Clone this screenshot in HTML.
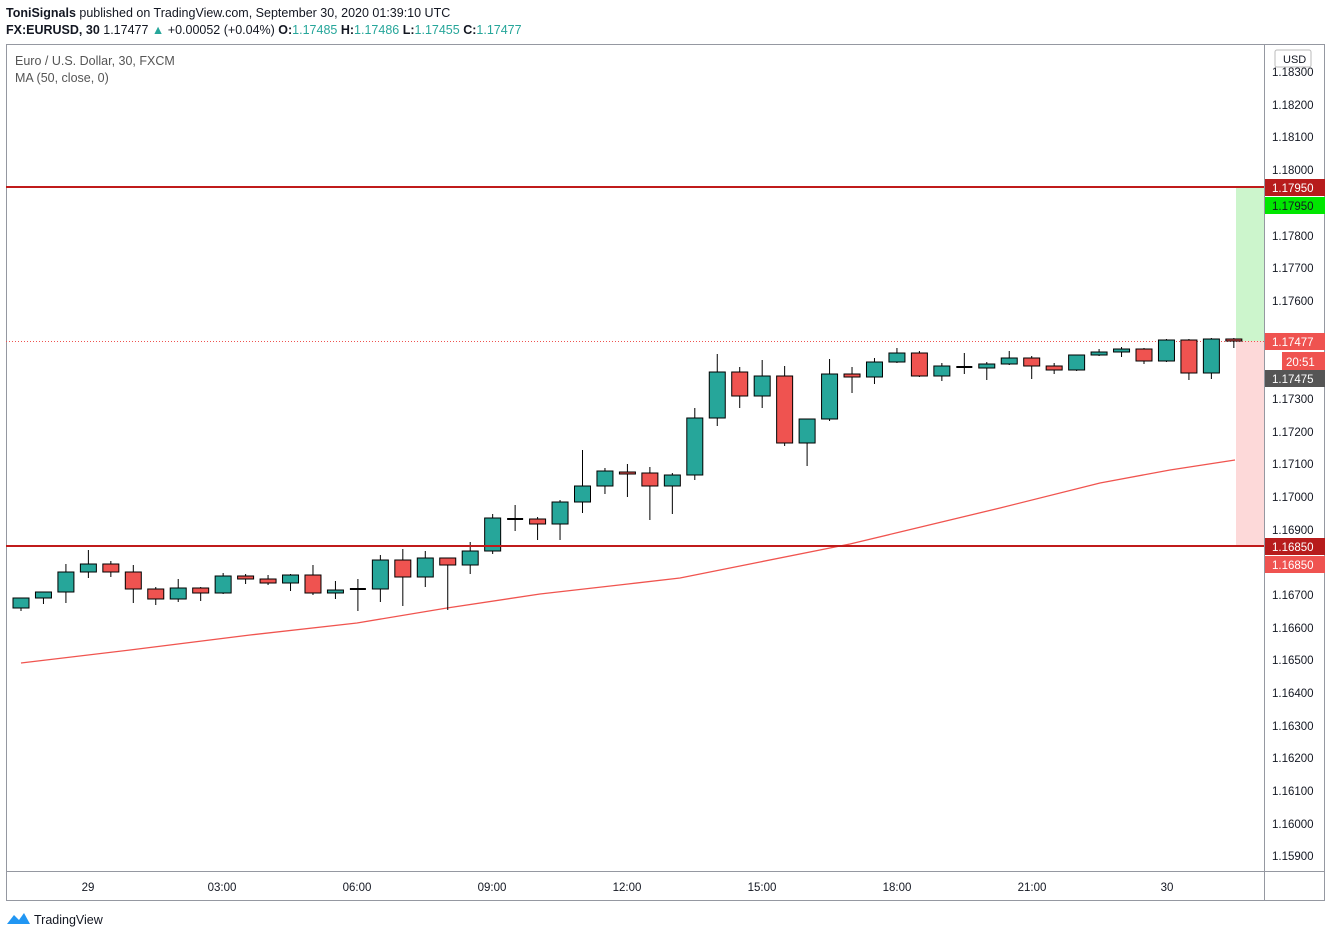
<!DOCTYPE html>
<html><head><meta charset="utf-8"><style>
body{margin:0;background:#fff;width:1331px;height:938px;overflow:hidden;font-family:"Liberation Sans",sans-serif}
svg{position:absolute;left:0;top:0}
</style></head><body>
<svg id="s" width="1331" height="938" xmlns="http://www.w3.org/2000/svg" font-family="Liberation Sans, sans-serif">
<text x="6" y="17" font-size="12.5" fill="#131722"><tspan font-weight="bold">ToniSignals</tspan> published on TradingView.com, September 30, 2020 01:39:10 UTC</text>
<text x="6" y="34" font-size="12.5" fill="#131722"><tspan font-weight="bold">FX:EURUSD, 30</tspan> 1.17477 <tspan fill="#26a69a">▲</tspan> +0.00052 (+0.04%) <tspan font-weight="bold">O:</tspan><tspan fill="#26a69a">1.17485</tspan> <tspan font-weight="bold">H:</tspan><tspan fill="#26a69a">1.17486</tspan> <tspan font-weight="bold">L:</tspan><tspan fill="#26a69a">1.17455</tspan> <tspan font-weight="bold">C:</tspan><tspan fill="#26a69a">1.17477</tspan></text>
<rect x="6.5" y="44.5" width="1318" height="856" fill="none" stroke="#9598a1"/>
<line x1="1264.5" y1="44" x2="1264.5" y2="901" stroke="#9598a1"/>
<line x1="6" y1="871.5" x2="1325" y2="871.5" stroke="#9598a1"/>
<text x="15" y="65" font-size="12.5" fill="#555">Euro / U.S. Dollar, 30, FXCM</text>
<text x="15" y="82" font-size="12.5" fill="#555">MA (50, close, 0)</text>
<rect x="1236" y="187" width="28" height="154" fill="#ccf5cc"/>
<rect x="1236" y="341" width="28" height="205" fill="#fdd9d9"/>
<line x1="6" y1="341.5" x2="1264" y2="341.5" stroke="#ef5350" stroke-dasharray="1,2"/>
<polyline fill="none" stroke="#f0544f" stroke-width="1.3" points="21,663 130,650 250,635 357,623 447,608 540,594 628,584 680,578 760,562 850,544 900,532 1000,508 1100,483 1170,470 1235,460"/>
<g id="c"></g>
<line x1="6" y1="187" x2="1264" y2="187" stroke="#c01b1b" stroke-width="2"/>
<line x1="6" y1="546" x2="1264" y2="546" stroke="#c01b1b" stroke-width="2"/>
<g font-size="11.5" fill="#131722">
<text x="1272" y="76">1.18300</text><text x="1272" y="109">1.18200</text><text x="1272" y="141">1.18100</text><text x="1272" y="174">1.18000</text>
<text x="1272" y="240">1.17800</text><text x="1272" y="272">1.17700</text><text x="1272" y="305">1.17600</text><text x="1272" y="403">1.17300</text>
<text x="1272" y="436">1.17200</text><text x="1272" y="468">1.17100</text><text x="1272" y="501">1.17000</text><text x="1272" y="534">1.16900</text>
<text x="1272" y="599">1.16700</text><text x="1272" y="632">1.16600</text><text x="1272" y="664">1.16500</text><text x="1272" y="697">1.16400</text>
<text x="1272" y="730">1.16300</text><text x="1272" y="762">1.16200</text><text x="1272" y="795">1.16100</text><text x="1272" y="828">1.16000</text><text x="1272" y="860">1.15900</text>
</g>
<rect x="1275" y="50" width="36" height="17" rx="2" fill="#fff" stroke="#bbb"/><text x="1283" y="63" font-size="11" fill="#131722">USD</text>
<rect x="1265" y="179" width="60" height="17" fill="#b71c1c"/><text x="1272" y="192" font-size="11.5" fill="#fff">1.17950</text>
<rect x="1265" y="197" width="60" height="17" fill="#00e600"/><text x="1272" y="210" font-size="11.5" fill="#131722">1.17950</text>
<rect x="1265" y="333" width="60" height="17" fill="#ef5350"/><text x="1272" y="346" font-size="11.5" fill="#fff">1.17477</text>
<rect x="1282" y="352" width="43" height="18" fill="#ef5350"/><text x="1286" y="366" font-size="11.5" fill="#fff">20:51</text>
<rect x="1265" y="370" width="60" height="17" fill="#555"/><text x="1272" y="383" font-size="11.5" fill="#fff">1.17475</text>
<rect x="1265" y="538" width="60" height="17" fill="#b71c1c"/><text x="1272" y="551" font-size="11.5" fill="#fff">1.16850</text>
<rect x="1265" y="556" width="60" height="17" fill="#ef5350"/><text x="1272" y="569" font-size="11.5" fill="#fff">1.16850</text>
<g font-size="11.5" fill="#131722" text-anchor="middle">
<text x="88" y="891">29</text><text x="222" y="891">03:00</text><text x="357" y="891">06:00</text><text x="492" y="891">09:00</text><text x="627" y="891">12:00</text><text x="762" y="891">15:00</text><text x="897" y="891">18:00</text><text x="1032" y="891">21:00</text><text x="1167" y="891">30</text>
</g>
<path d="M7 924 l7 -9 l5 5 l5 -7 l6 11 z" fill="#2196f3"/>
<text x="34" y="924" font-size="12.5" fill="#131722">TradingView</text>
</svg>
<script>
var d=[[608,598,598,611],[598,592,592,604],[592,572,564,603],[572,564,550,578],[564,572,561,577],[572,589,565,603],[589,599,587,605],[599,588,579,602],[588,593,587,601],[593,576,573,594],[576,579,574,584],[579,583,575,585],[583,575,574,591],[575,593,565,595],[593,590,581,599],[589,589,579,611],[589,560,555,602],[560,577,549,606],[577,558,551,587],[558,565,558,610],[565,551,542,574],[551,518,514,554],[519,519,505,531],[519,524,517,540],[524,502,500,540],[502,486,450,513],[486,471,468,494],[472,474,464,497],[473,486,467,520],[486,475,473,514],[475,418,408,480],[418,372,354,426],[372,396,367,408],[396,376,360,408],[376,443,366,446],[443,419,419,466],[419,374,359,421],[374,377,367,393],[377,362,358,384],[362,353,348,363],[353,376,351,377],[376,366,363,381],[367,367,353,374],[368,364,362,380],[364,358,351,365],[358,366,356,379],[366,370,363,374],[370,355,355,371],[355,352,349,356],[352,349,347,357],[349,361,348,364],[361,340,339,362],[340,373,339,380],[373,339,338,379],[339,341,338,348]];
var g=document.getElementById('c'),h='';
d.forEach(function(c,i){var x=21+i*22.46,o=c[0],cl=c[1],col=cl<o?'#26a69a':(cl>o?'#ef5350':'#000');
h+='<line x1="'+x+'" y1="'+c[2]+'" x2="'+x+'" y2="'+c[3]+'" stroke="#000"/>';
var t=Math.min(o,cl),b=Math.max(o,cl);if(b-t<1){h+='<rect x="'+(x-8)+'" y="'+(t-1)+'" width="16" height="2" fill="#000"/>';}
else h+='<rect x="'+(x-8)+'" y="'+t+'" width="16" height="'+(b-t)+'" fill="'+col+'" stroke="#000" stroke-width="1"/>';});
g.innerHTML=h;
</script>
</body></html>
